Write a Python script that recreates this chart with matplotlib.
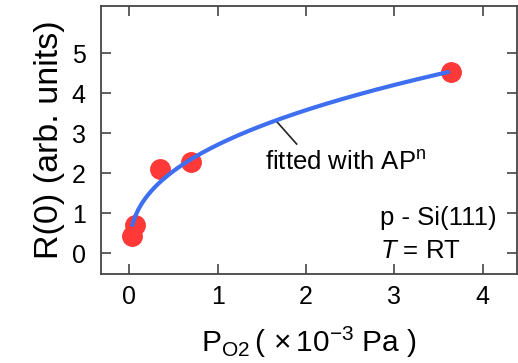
import numpy as np
import matplotlib
matplotlib.use('Agg')
import matplotlib.pyplot as plt

plt.rcParams['font.family'] = ['Liberation Sans', 'DejaVu Sans']
plt.rcParams['mathtext.fontset'] = 'custom'
plt.rcParams['mathtext.rm'] = 'Liberation Sans'
plt.rcParams['mathtext.it'] = 'Liberation Sans:italic'

# measured points
p_o2 = [0.03, 0.06, 0.35, 0.70, 3.64]
r0 = [0.42, 0.71, 2.11, 2.28, 4.52]

# fit parameters for A*P^n
fit_A = 2.71
fit_n = 0.40
fit_range = (0.03, 3.63)

xticks = [0, 1, 2, 3, 4]
yticks = [0, 1, 2, 3, 4, 5]

fig = plt.figure(figsize=(5.18, 3.63), dpi=100)
ax = fig.add_axes([101/518, 1-274/363, 416/518, 268/363])

p_fit = np.linspace(fit_range[0], fit_range[1], 300)
ax.plot(p_o2, r0, 'o', color='#ff3838', markersize=14, zorder=2)
ax.plot(p_fit, fit_A*p_fit**fit_n, color='#3d6ff0', lw=3, zorder=3,
        solid_capstyle='butt')

ax.set_xlim(-0.32, 4.39)
ax.set_ylim(-0.52, 6.18)
ax.set_xticks(xticks)
ax.set_yticks(yticks)
ax.tick_params(direction='in', length=7, width=1.2, color='#444444',
               top=True, right=True, labelsize=18)
ax.tick_params(axis='y', pad=11)
ax.tick_params(axis='x', pad=8)
for s in ax.spines.values():
    s.set_linewidth(1.3)
    s.set_color('#444444')

ax.set_ylabel('R(0) (arb. units)', fontsize=24.5, labelpad=5)
ax.set_xlabel(r'$\mathregular{P_{O2}\,(\,\times10^{-3}\ Pa\ )}$',
              fontsize=21.5, labelpad=11)

ax.plot([1.67, 1.895], [3.29, 2.73], color='#222222', lw=1.2)
ax.text(1.535, 2.08, r'fitted with AP$^\mathregular{n}$', fontsize=18.5)
ax.text(2.84, 0.71, 'p - Si(111)', fontsize=18.5)
ax.text(2.84, -0.12, r'$\mathit{T}$ = RT', fontsize=18.5)

fig.savefig('out.png', dpi=100)
